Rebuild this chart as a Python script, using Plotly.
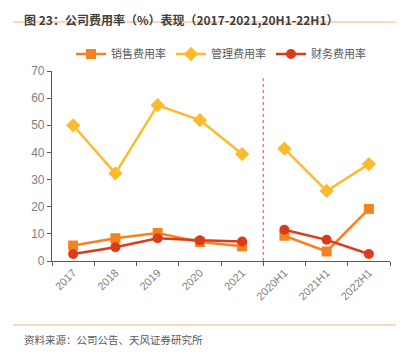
import plotly.graph_objects as go

categories = ["2017", "2018", "2019", "2020", "2021", "2020H1", "2021H1", "2022H1"]
sales_rate = [5.7, 8.4, 10.3, 7.0, 5.4, 9.3, 3.5, 19.2]
admin_rate = [50.0, 32.3, 57.4, 51.9, 39.4, 41.4, 25.8, 35.7]
finance_rate = [2.6, 5.1, 8.4, 7.6, 7.2, 11.5, 7.8, 2.6]
y_ticks = [0, 10, 20, 30, 40, 50, 60, 70]

FONT = "Noto Sans CJK SC"
OFF = 8  # default page body margin
W, H = 404 - OFF, 357 - OFF
L, R, T, B = 52 - OFF, 14, 71 - OFF, 96

fig = go.Figure()

def add_series(vals, name, color, symbol, size):
    # annual part and half-year part drawn as separate line segments
    fig.add_trace(go.Scatter(x=categories[:5], y=vals[:5], name=name, mode="lines+markers",
                             line=dict(color=color, width=2.5),
                             marker=dict(symbol=symbol, size=size, color=color),
                             legendgroup=name, showlegend=True))
    fig.add_trace(go.Scatter(x=categories[5:], y=vals[5:], name=name, mode="lines+markers",
                             line=dict(color=color, width=2.5),
                             marker=dict(symbol=symbol, size=size, color=color),
                             legendgroup=name, showlegend=False))

add_series(sales_rate, "销售费用率", "#F58220", "square", 10)
add_series(admin_rate, "管理费用率", "#FDBA2C", "diamond", 11)
add_series(finance_rate, "财务费用率", "#DD3A1C", "circle", 10)

# dotted separator between annual and half-year data
fig.add_shape(type="line", xref="x", yref="y", x0=4.5, x1=4.5, y0=0, y1=67.3,
              line=dict(color="#E06666", width=1.2, dash="dot"))

# page-pixel -> paper coords
def ppx(xp):
    return (xp - OFF - L) / (W - L - R)

def ppy(yp):
    return (H - B - (yp - OFF)) / (H - T - B)

# title
fig.add_annotation(xref="paper", yref="paper", x=ppx(22), y=ppy(8.5),
                   xanchor="left", yanchor="top", showarrow=False,
                   text="<b>图 23：公司费用率（%）表现（2017-2021,20H1-22H1）</b>",
                   font=dict(family=FONT, size=12, color="#404040"))
# source
fig.add_annotation(xref="paper", yref="paper", x=ppx(22), y=ppy(339),
                   xanchor="left", yanchor="middle", showarrow=False,
                   text="资料来源：公司公告、天风证券研究所",
                   font=dict(family=FONT, size=10.5, color="#595959"))
# rules
for yp in (22, 325):
    fig.add_shape(type="line", xref="paper", yref="paper",
                  x0=ppx(13), x1=ppx(404), y0=ppy(yp), y1=ppy(yp),
                  line=dict(color="#F7B27A", width=1.2))

fig.update_layout(
    width=W, height=H,
    margin=dict(l=L, r=R, t=T, b=B, autoexpand=False),
    paper_bgcolor="white", plot_bgcolor="white",
    font=dict(family=FONT, size=11, color="#7F7F7F"),
    legend=dict(orientation="h", x=(221 - OFF) / W, xanchor="center", xref="container",
                y=1 - (54 - OFF) / H, yanchor="middle", yref="container",
                font=dict(family=FONT, size=11, color="#595959"), itemwidth=30,
                bgcolor="rgba(0,0,0,0)"),
    showlegend=True,
)
fig.update_xaxes(type="category", categoryorder="array", categoryarray=categories,
                 range=[-0.5, 7.5], tickson="boundaries", ticks="outside", ticklen=4,
                 tickcolor="#595959", showline=True, linecolor="#595959", linewidth=1.2,
                 showgrid=False, tickangle=-45, tickfont=dict(family="Liberation Sans", size=11, color="#7F7F7F"),
                 automargin=False)
fig.update_yaxes(range=[0, 70], tickvals=y_ticks, ticks="outside", ticklen=4,
                 tickcolor="#595959", showline=True, linecolor="#595959", linewidth=1.2,
                 showgrid=False, zeroline=False, tickfont=dict(family="Liberation Sans", size=12, color="#7F7F7F"),
                 automargin=False)

fig.write_html("out.html")
